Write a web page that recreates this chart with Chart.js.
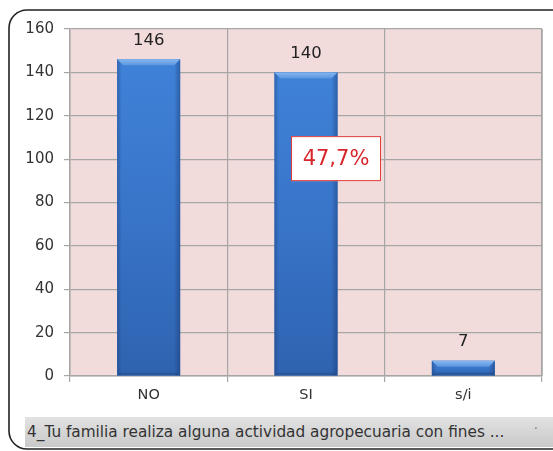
<!DOCTYPE html>
<html>
<head>
<meta charset="utf-8">
<script src="https://cdn.jsdelivr.net/npm/chart.js@4"></script>
<style>
  html, body { margin: 0; padding: 0; background: #fff; }
  #wrap { position: relative; width: 553px; height: 451px; overflow: hidden; }
  #caption {
    position: absolute; left: 25px; top: 417px; width: 540px; height: 30px;
    background: linear-gradient(#e2e2e2, #c9c9c9);
    font-family: "DejaVu Sans", sans-serif; font-size: 15.3px; color: #333;
    line-height: 30px; padding-left: 2px; box-sizing: border-box; white-space: nowrap;
  }
  #caption .dot { position: absolute; left: 509px; top: -3px; color: #666; font-size: 12px; }
</style>
</head>
<body>
<div id="wrap">
  <canvas id="chart" width="553" height="451"></canvas>
  <div id="caption">4_Tu familia realiza alguna actividad agropecuaria con fines ...<span class="dot">·</span></div>
</div>
<script>
// data
const categories = ["NO", "SI", "s/i"];
const counts = [146, 140, 7];
const yTicks = [0, 20, 40, 60, 80, 100, 120, 140, 160];
const noteText = "47,7%";

const FONT = '"DejaVu Sans", sans-serif';

// pink plot background + outer rounded frame
const frame = {
  id: 'frame',
  beforeDraw(chart) {
    const c = chart.ctx, a = chart.chartArea;
    c.save();
    c.fillStyle = '#f2dcdb';
    c.fillRect(a.left, a.top, a.right - a.left, a.bottom - a.top);
    c.restore();
  },
  afterDraw(chart) {
    const c = chart.ctx, a = chart.chartArea;
    c.save();
    // plot border right side
    c.strokeStyle = '#a6a6a6';
    c.lineWidth = 1.5;
    c.beginPath();
    c.moveTo(a.right, a.top);
    c.lineTo(a.right, a.bottom);
    c.stroke();
    // outer rounded border
    c.strokeStyle = '#222';
    c.lineWidth = 1.6;
    c.beginPath();
    c.roundRect(9, 10, 562, 439, 18);
    c.stroke();

    // bar labels
    const meta = chart.getDatasetMeta(0);
    c.fillStyle = '#222';
    c.font = '16.5px ' + FONT;
    c.textAlign = 'center';
    c.textBaseline = 'middle';
    meta.data.forEach((bar, i) => {
      c.fillText(String(counts[i]), bar.x, bar.y - 19);
    });

    // percentage note box
    const xs = chart.scales.x, ys = chart.scales.y;
    const cx = xs.getPixelForValue(1) + 30;
    const cy = ys.getPixelForValue(100) - 0.5;
    const w = 90, h = 45;
    c.fillStyle = '#fff';
    c.fillRect(cx - w / 2, cy - h / 2, w, h);
    c.strokeStyle = '#e03a3a';
    c.lineWidth = 1;
    c.strokeRect(cx - w / 2 + 0.5, cy - h / 2 + 0.5, w - 1, h - 1);
    c.fillStyle = '#d9262b';
    c.font = '21px ' + FONT;
    c.fillText(noteText, cx, cy + 1);
    c.restore();
  }
};

// per-bar shading: vertical gradient, darker sides, top bevel
const bevel = {
  id: 'bevel',
  afterDatasetsDraw(chart) {
    const c = chart.ctx;
    const meta = chart.getDatasetMeta(0);
    c.save();
    meta.data.forEach(bar => {
      const l = bar.x - bar.width / 2, r = bar.x + bar.width / 2;
      const t = bar.y, b = bar.base;
      const d = Math.min(6, (b - t) / 2);
      const vg = c.createLinearGradient(0, t, 0, b);
      vg.addColorStop(0, '#3f82d8');
      vg.addColorStop(0.5, '#3874c8');
      vg.addColorStop(1, '#2f63b0');
      c.fillStyle = vg;
      c.fillRect(l, t, r - l, b - t);
      // side shading
      const sg = c.createLinearGradient(l, 0, r, 0);
      sg.addColorStop(0, 'rgba(20,45,95,0.35)');
      sg.addColorStop(0.07, 'rgba(20,45,95,0)');
      sg.addColorStop(0.9, 'rgba(20,45,95,0)');
      sg.addColorStop(1, 'rgba(20,45,95,0.4)');
      c.fillStyle = sg;
      c.fillRect(l, t, r - l, b - t);
      // top bevel
      const g = c.createLinearGradient(0, t, 0, t + d);
      g.addColorStop(0, '#86b8f0');
      g.addColorStop(1, '#5a95df');
      c.fillStyle = g;
      c.beginPath();
      c.moveTo(l, t);
      c.lineTo(r, t);
      c.lineTo(r - d, t + d);
      c.lineTo(l + d, t + d);
      c.closePath();
      c.fill();
      // slight dark bottom edge
      c.fillStyle = 'rgba(20,50,100,0.25)';
      c.beginPath();
      c.moveTo(l, b);
      c.lineTo(r, b);
      c.lineTo(r - d / 2, b - d / 2);
      c.lineTo(l + d / 2, b - d / 2);
      c.closePath();
      c.fill();
    });
    c.restore();
  }
};

new Chart(document.getElementById('chart'), {
  type: 'bar',
  data: {
    labels: categories,
    datasets: [{
      data: counts,
      backgroundColor: '#3874c8',
      borderWidth: 0,
      barPercentage: 0.4,
      categoryPercentage: 1.0
    }]
  },
  options: {
    responsive: false,
    animation: false,
    events: [],
    layout: { padding: { left: 0, top: 29, right: 11, bottom: 0 } },
    plugins: { legend: { display: false }, tooltip: { enabled: false } },
    scales: {
      x: {
        grid: { color: '#a6a6a6', lineWidth: 1.2, offset: true, tickLength: 6 },
        border: { color: '#a6a6a6', width: 1.5 },
        ticks: { color: '#333', font: { family: FONT, size: 14.5 }, padding: 5 },
        afterFit(s) { s.height = 75; }
      },
      y: {
        min: 0, max: 160,
        afterBuildTicks(s) { s.ticks = yTicks.map(v => ({ value: v })); },
        grid: { color: '#a6a6a6', lineWidth: 1.2, tickLength: 6 },
        border: { color: '#a6a6a6', width: 1.5 },
        ticks: { color: '#333', font: { family: FONT, size: 15 }, padding: 10 },
        afterFit(s) { s.width = 70; }
      }
    }
  },
  plugins: [frame, bevel]
});
</script>
</body>
</html>
